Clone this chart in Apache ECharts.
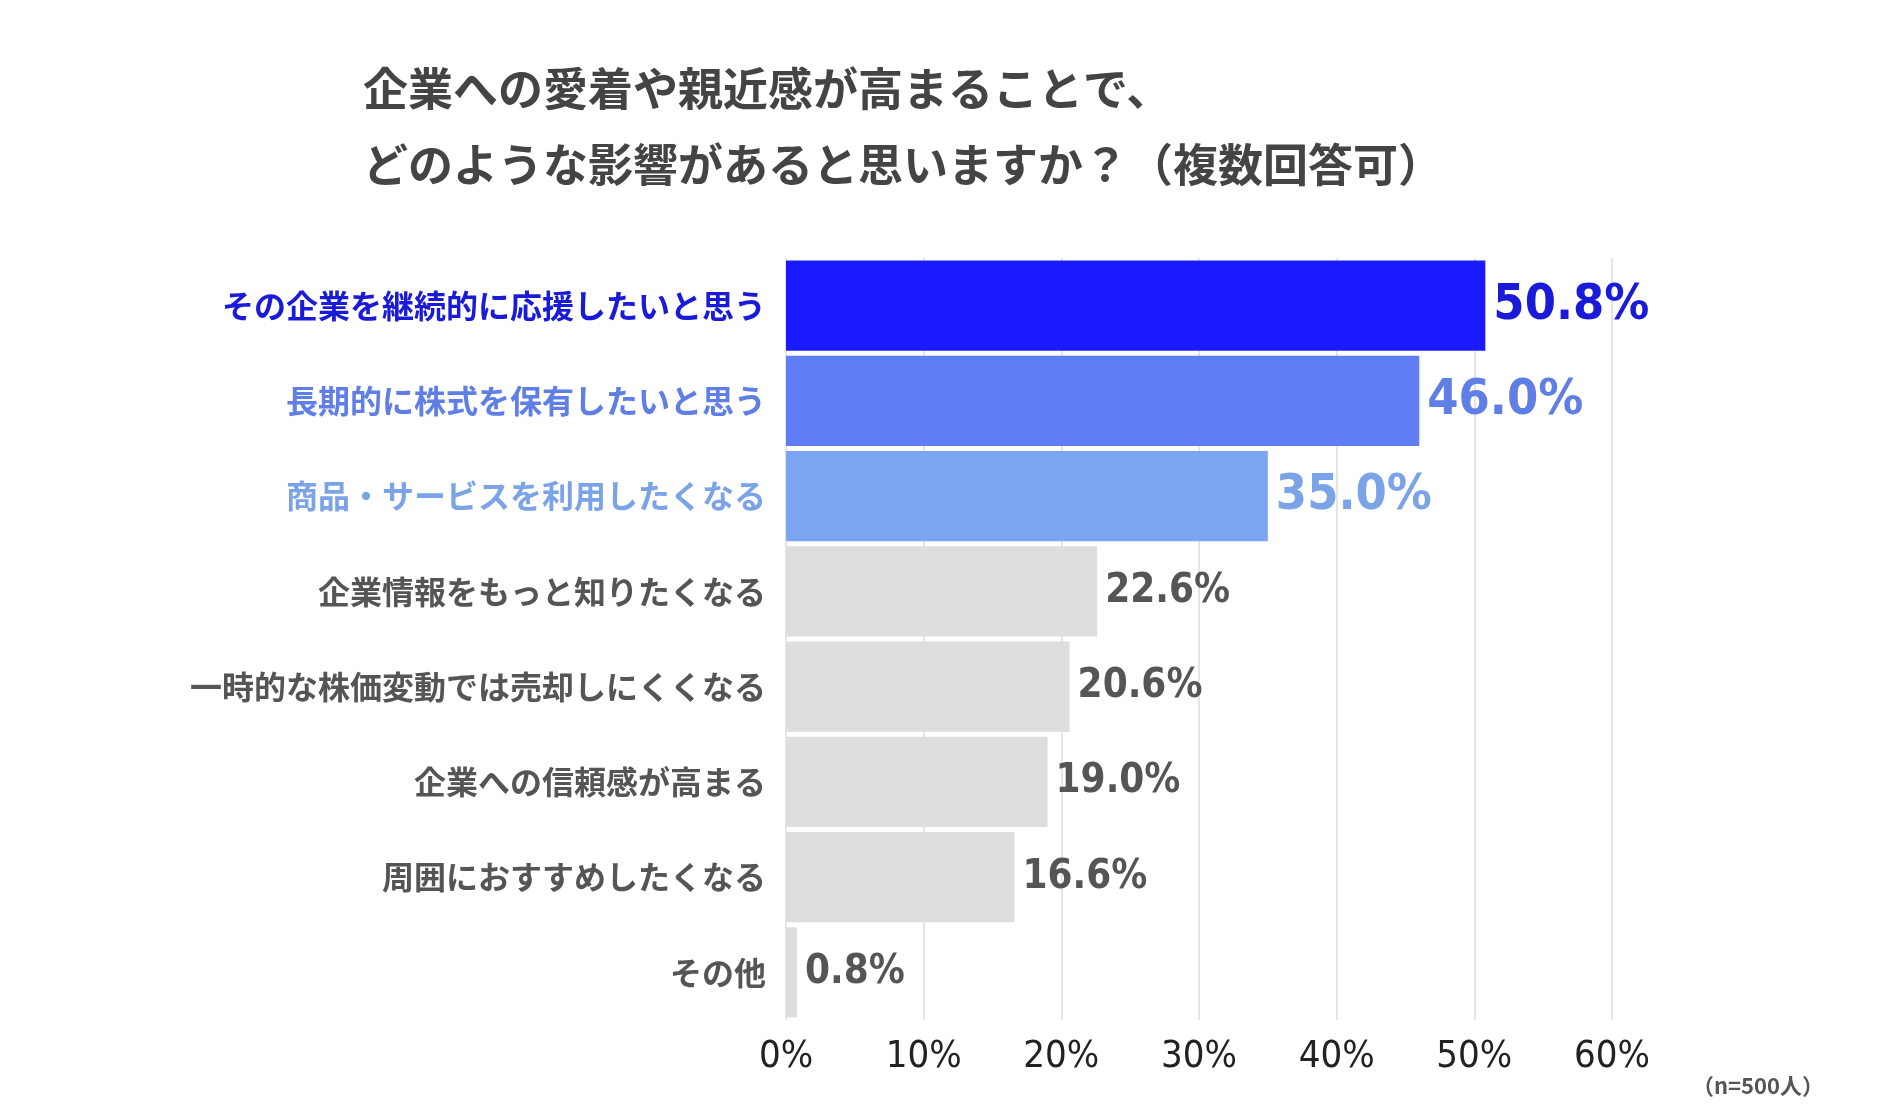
<!DOCTYPE html>
<html><head><meta charset="utf-8">
<script src="https://cdn.jsdelivr.net/npm/echarts@6/dist/echarts.min.js"></script>
<style>html,body{margin:0;background:#fff}#main{width:1889px;height:1113px}</style>
</head><body><div id="main"></div>
<script>
var labels=['その企業を継続的に応援したいと思う','長期的に株式を保有したいと思う','商品・サービスを利用したくなる','企業情報をもっと知りたくなる','一時的な株価変動では売却しにくくなる','企業への信頼感が高まる','周囲におすすめしたくなる','その他'];
var values=[50.8,46.0,35.0,22.6,20.6,19.0,16.6,0.8];
var barColors=['#1a1aff','#5f7ef5','#7ba4f2','#dedede','#dedede','#dedede','#dedede','#dedede'];
var textColors=['#1a1ad9','#5f7ee6','#7ba4e8','#555','#555','#555','#555','#555'];
var cjk='"Noto Sans CJK JP"';
var num='"DejaVu Sans Condensed","Roboto",sans-serif';

var chart=echarts.init(document.getElementById('main'));
var data=values.map(function(v,i){
  return {value:v,itemStyle:{color:barColors[i]},
    label:{color:textColors[i],fontSize:i<3?50:40}};
});
chart.setOption({
  animation:false,
  graphic:[
    {type:'text',left:363,top:66,style:{text:'企業への愛着や親近感が高まることで、',font:'bold 45px '+cjk,fill:'#444'}},
    {type:'text',left:363,top:142,style:{text:'どのような影響があると思いますか？（複数回答可）',font:'bold 45px '+cjk,fill:'#444'}},
    {type:'text',left:1692,top:1075,style:{text:'（n=500人）',font:'bold 22px '+cjk,fill:'#555'}}
  ],
  grid:{left:786,right:1889-1612,top:258,bottom:1113-1020},
  xAxis:{type:'value',min:0,max:60,interval:10,
    axisLabel:{formatter:'{value}%',fontSize:38,color:'#222',fontFamily:num,margin:18},
    splitLine:{lineStyle:{color:'#dcdcdc',width:1.5}},axisLine:{show:false},axisTick:{show:false}},
  yAxis:{type:'category',inverse:true,data:labels,
    axisLine:{show:false},axisTick:{show:false},
    axisLabel:{margin:20,fontFamily:cjk,fontWeight:'bold',fontSize:32,
      color:function(v,i){return textColors[i];}}},
  series:[{type:'bar',data:data,barCategoryGap:'5%',
    label:{show:true,position:'right',distance:8,fontFamily:num,fontWeight:'bold',formatter:function(p){return p.value.toFixed(1)+'%';}}}]
});
</script></body></html>
